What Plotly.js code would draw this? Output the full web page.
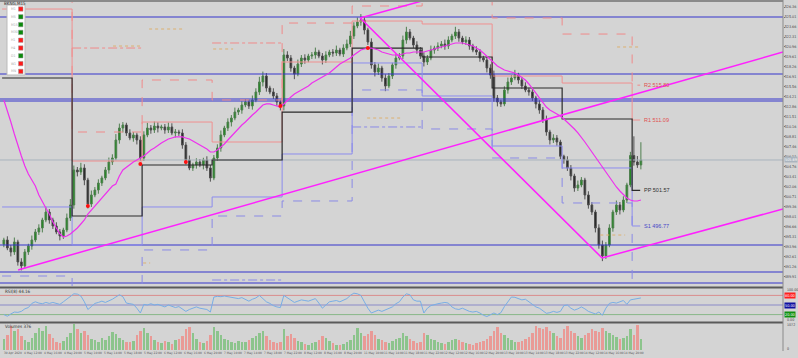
<!DOCTYPE html>
<html><head><meta charset="utf-8">
<script src="https://cdn.plot.ly/plotly-3.0.1.min.js"></script>
<style>html,body{margin:0;padding:0;background:#d4d4d4;overflow:hidden}#chart{width:798px;height:358px}</style>
</head><body><div id="chart"></div>
<script>
// ---------- DATA ----------
const closes=[494.88,493.80,493.26,494.61,491.91,491.37,493.26,494.07,494.88,495.96,496.50,497.58,498.66,497.58,496.77,495.96,495.42,496.23,497.85,499.61,
504.34,504.07,504.61,502.98,499.74,500.96,501.63,502.58,503.26,504.34,505.42,505.96,508.39,510.01,510.42,509.34,508.66,509.07,508.39,505.96,
509.07,510.01,509.74,510.28,510.01,510.15,509.74,510.15,509.34,509.47,509.34,507.71,505.69,504.61,505.02,505.42,505.02,505.69,504.61,503.26,
505.96,507.31,509.07,510.01,510.82,511.36,512.17,512.44,513.12,513.53,512.99,513.80,514.88,516.23,517.04,515.42,514.88,514.34,513.53,512.99,
519.88,519.47,518.12,517.31,518.66,519.47,519.20,519.74,519.88,520.28,519.74,519.20,519.88,520.28,520.15,520.55,520.01,520.82,521.36,522.44,
523.80,524.34,524.61,523.26,521.63,518.53,517.58,518.12,516.77,515.69,517.04,518.53,519.47,519.74,521.90,522.99,522.17,521.23,520.55,519.74,
518.93,519.47,520.55,520.82,521.09,521.36,521.09,521.90,522.44,522.99,522.17,521.63,521.90,521.09,520.55,520.28,519.47,519.20,518.12,517.17,
514.07,513.53,513.26,515.15,516.23,516.77,517.17,516.50,515.69,515.15,514.88,514.07,513.26,512.44,511.09,509.47,508.39,508.66,508.12,506.20,
505.69,504.61,503.53,501.90,502.31,502.98,500.96,499.61,498.66,496.50,494.20,492.72,494.20,496.50,498.66,499.61,498.93,500.28,502.31,506.29,
505.42,505.02,505.69];
const opens=[494.30,494.88,493.80,493.26,494.61,491.91,491.37,493.26,494.07,494.88,495.96,496.50,497.58,498.66,497.58,496.77,495.96,495.42,496.23,497.85,
499.61,504.34,504.07,504.61,502.98,499.74,500.96,501.63,502.58,503.26,504.34,505.42,505.96,508.39,510.01,510.42,509.34,508.66,509.07,508.39,
505.96,509.07,510.01,509.74,510.28,510.01,510.15,509.74,510.15,509.34,509.47,509.34,507.71,505.69,504.61,505.02,505.42,505.02,505.69,504.61,
503.26,505.96,507.31,509.07,510.01,510.82,511.36,512.17,512.44,513.12,513.53,512.99,513.80,514.88,516.23,517.04,515.42,514.88,514.34,513.53,
512.99,519.88,519.47,518.12,517.31,518.66,519.47,519.20,519.74,519.88,520.28,519.74,519.20,519.88,520.28,520.15,520.55,520.01,520.82,521.36,
522.44,523.80,524.34,524.61,523.26,521.63,518.53,517.58,518.12,516.77,515.69,517.04,518.53,519.47,519.74,521.90,522.99,522.17,521.23,520.55,
519.74,518.93,519.47,520.55,520.82,521.09,521.36,521.09,521.90,522.44,522.99,522.17,521.63,521.90,521.09,520.55,520.28,519.47,519.20,518.12,
517.17,514.07,513.53,513.26,515.15,516.23,516.77,517.17,516.50,515.69,515.15,514.88,514.07,513.26,512.44,511.09,509.47,508.39,508.66,508.12,
506.20,505.69,504.61,503.53,501.90,502.31,502.98,500.96,499.61,498.66,496.50,494.20,492.72,494.20,496.50,498.66,499.61,498.93,500.28,502.31,
506.29,505.42,505.02];
const wickUp=[.3,.5,.4,.6,.3,.5,.4,.3,.6,.4,.5,.3,.7,.4,.3,.5,.4,.3,.6,.8,
.6,.4,.7,.5,.3,.6,.4,.5,.3,.4,.6,.5,.8,.6,.4,.3,.5,.4,.3,.5,
.5,.7,.4,.6,.5,.3,.4,.6,.5,.4,.3,.5,.4,.6,.3,.5,.4,.3,.5,.4,
.4,.5,.6,.3,.5,.4,.6,.3,.5,.4,.3,.6,.5,.7,.6,.4,.3,.5,.4,.3,
.8,.5,.4,.3,.6,.4,.5,.3,.4,.6,.3,.4,.5,.3,.4,.6,.3,.5,.6,.7,
.5,.6,.8,.4,.3,.5,.4,.6,.3,.5,.4,.3,.5,.4,.6,.7,.4,.3,.5,.4,
.5,.4,.6,.3,.5,.4,.6,.5,.3,.7,.4,.3,.5,.4,.3,.5,.4,.3,.4,.5,
.6,.4,.3,.5,.6,.4,.7,.3,.4,.5,.3,.4,.3,.5,.4,.6,.3,.5,.4,.3,
.2,.5,.4,.3,.6,.4,.3,.5,.4,.3,.5,.6,.4,.5,.3,.6,.4,.5,.3,.5,
2.6,.8,2.4];
const wickDn=[.4,.3,.6,.4,.5,.6,.3,.4,.5,.3,.4,.6,.3,.5,.4,.3,.6,.4,.3,.4,
.5,.6,.4,.7,.6,.4,.3,.5,.4,.3,.5,.4,.3,.5,.6,.4,.3,.5,.6,.4,
.4,.3,.5,.4,.6,.3,.5,.4,.3,.6,.4,.5,.6,.3,.4,.5,.3,.6,.4,.5,
.3,.4,.5,.3,.4,.6,.3,.4,.5,.3,.4,.5,.3,.4,.6,.5,.3,.4,.5,.6,
.6,.4,.5,.7,.3,.4,.5,.3,.4,.5,.3,.6,.4,.3,.5,.4,.3,.4,.3,.4,
.4,.3,.5,.6,.4,.5,.6,.4,.5,.7,.3,.4,.5,.3,.4,.5,.3,.4,.5,.4,
.6,.4,.3,.5,.4,.3,.5,.4,.3,.4,.5,.3,.4,.5,.3,.4,.5,.3,.6,.5,
.5,.6,.4,.3,.5,.4,.3,.5,.4,.3,.5,.4,.6,.5,.4,.5,.6,.4,.5,.4,
.5,.4,.6,.5,.4,.3,.6,.5,.4,.6,.5,.7,.4,.3,.5,.4,.6,.3,.4,.3,
.5,.4,.6];
const volumes=[420,560,880,700,760,520,380,300,450,620,800,720,900,610,430,300,260,340,500,640,
980,760,620,700,540,420,380,300,460,380,520,680,600,440,360,280,300,340,560,720,
800,640,520,380,300,260,320,280,240,360,420,520,760,840,620,400,300,260,340,560,
860,700,540,420,380,300,260,340,280,300,380,460,520,640,700,520,380,300,260,300,
760,520,600,460,340,280,240,200,260,300,380,520,460,340,260,200,180,240,300,380,
560,820,640,520,600,720,560,420,380,300,260,340,420,460,620,520,400,320,260,300,
620,540,420,360,300,260,240,280,360,420,380,300,260,220,200,260,300,340,400,520,
720,840,640,560,460,380,300,280,340,420,500,640,900,820,760,860,720,640,520,460,
780,880,720,620,520,460,560,640,780,700,660,800,720,620,560,480,420,460,520,760,
560,940,420];
const rsiValues=[20,15,22,28,27,30,38,42,55,60,56,54,58,55,58,56,52,60,68,76,
85,84,78,60,36,45,55,58,62,58,62,68,75,82,76,56,54,52,40,25,
52,50,54,50,52,48,44,50,46,42,45,38,30,36,40,44,40,38,36,28,
75,77,76,78,76,74,72,70,73,68,62,68,72,80,70,60,55,48,44,42,
80,72,64,58,62,66,64,62,66,70,56,40,50,60,62,64,60,64,70,80,
87,85,80,60,40,25,30,34,30,34,40,44,54,60,75,85,82,66,62,62,
25,40,48,52,54,56,58,56,44,38,36,40,34,30,28,30,25,18,14,20,
25,20,26,45,62,75,74,70,66,68,60,50,44,40,32,24,26,30,27,30,
48,50,40,34,38,44,38,30,26,22,28,18,40,55,58,56,60,64,52,66,
68,70,72];
const maValues=[513.80,512.44,510.82,509.20,507.58,506.23,504.88,503.80,502.98,502.17,500.96,500.01,499.20,498.39,497.31,496.50,495.69,495.28,495.42,495.69,
496.09,496.50,497.04,497.58,498.39,498.93,499.61,500.01,500.55,501.09,501.77,502.17,502.44,503.53,504.34,504.74,505.15,505.42,505.69,505.96,
506.23,506.63,507.04,507.31,507.71,507.98,508.25,508.52,508.66,508.80,508.80,508.80,508.66,508.52,508.25,507.98,507.71,507.44,507.17,506.77,
506.77,507.04,507.44,507.85,508.39,508.93,509.47,510.01,510.42,510.82,511.36,511.77,512.17,512.72,513.12,513.26,513.26,513.12,512.99,512.85,
513.26,513.80,514.20,514.61,514.88,515.15,515.42,515.69,516.09,516.36,516.63,516.90,517.17,517.44,517.85,518.26,518.66,518.93,519.20,519.47,
519.88,520.28,520.55,520.69,520.82,520.82,520.69,520.55,520.28,520.15,520.01,519.88,519.88,519.88,520.01,520.15,520.15,520.28,520.28,520.28,
520.28,520.42,520.55,520.69,520.82,520.96,521.09,521.23,521.36,521.50,521.50,521.50,521.36,521.23,521.09,520.82,520.55,520.15,519.74,519.20,
518.80,518.39,518.12,517.85,517.71,517.58,517.44,517.17,516.77,516.50,515.96,515.42,514.74,514.07,513.39,512.85,512.44,512.17,511.90,511.63,
511.23,510.82,510.42,509.88,509.34,508.80,508.12,507.44,506.77,506.09,505.28,504.61,503.93,503.26,502.58,502.04,501.50,500.96,500.55,500.28,
500.15,500.15,500.28];
// signal dots (bar index, price)
const dotBars=[24,39,52,79,104];
const dotPrices=[499.47,505.15,505.42,512.99,520.82];
// daily pivot levels, one value per trading day (4 May ... 15 May)
const dayNames=["4 May","5 May","6 May","7 May","8 May","11 May","12 May","13 May","14 May","15 May"];
const r3Levels=[null,520.82,null,521.50,null,null,null,null,null,null];
const r2Levels=[543.0,509.47,516.50,513.80,524.20,526.50,529.30,524.88,522.71,515.80];
const r1Levels=[526.09,505.55,510.82,508.12,518.93,524.47,524.07,517.04,516.09,511.09];
const ppLevels=[516.77,498.12,505.01,505.69,512.17,520.82,519.61,515.42,511.23,501.57];
const s1Levels=[499.34,494.20,499.34,500.69,506.50,518.80,514.34,507.58,504.61,496.77];
const s2Levels=[490.01,486.77,493.53,498.12,500.15,515.15,509.88,505.96,499.88,487.25];
const s3Levels=[null,null,null,489.47,null,510.15,null,null,null,null];
// mid-level short segments: start bar, end bar, price
const midStart=[31.2,41.5,59.8,103.8,175.2,170.4,39.8];
const midEnd=[38.9,51.2,65.5,113.2,181.8,177.5,41.8];
const midPrice=[521.09,523.39,520.69,511.36,520.96,495.55,491.77];
// horizontal levels and trend lines
const hLevels=[525.01,517.31,513.93,513.66,494.20,490.55,489.06];
const lastPrice=505.69;
const trendA={bars:[4.07,222.6],prices:[490.83,520.28]};
const trendB={bars:[101.8,170.9],prices:[524.88,492.45]};
const trendC={bars:[101.8,124.6],prices:[524.88,527.85]};
const trendD={bars:[170.9,222.6],prices:[492.45,499.07]};
const dateLabels=["30 Apr 2020","4 May 12:00","4 May 16:00","4 May 20:00","5 May 10:00","5 May 14:00","5 May 18:00","5 May 22:00",
"6 May 12:00","6 May 16:00","6 May 20:00","7 May 10:00","7 May 14:00","7 May 18:00","7 May 22:00","8 May 12:00","8 May 16:00","8 May 20:00",
"11 May 10:00","11 May 14:00","11 May 18:00","11 May 22:00","12 May 12:00","12 May 16:00","12 May 20:00","13 May 10:00","13 May 14:00",
"13 May 18:00","13 May 22:00","14 May 12:00","14 May 16:00","14 May 20:00"];
const tfNames=["M1","M5","M15","M30","H1","H4","D1","W1","MN"];
const tfState=[0,1,1,1,0,0,1,0,0];
const pivotTags=[["R2",515.80],["R1",511.09],["PP",501.57],["S1",496.77]];

// ---------- GEOMETRY ----------
const W=798,H=358;
const XR=[-1.1,222.6];
const px=x=>x/W, py=y=>1-y/H;
const FONT='Liberation Sans, Arial, sans-serif';
const NARROW='Liberation Sans Narrow, DejaVu Sans Condensed, Liberation Sans, sans-serif';
const idx=closes.map((_,i)=>i);
const highs=closes.map((c,i)=>Math.max(c,opens[i])+wickUp[i]);
const lows=closes.map((c,i)=>Math.min(c,opens[i])-wickDn[i]);

const nDays=ppLevels.length;
const dayStart=k=>k*20-0.5;
const dayEnd=k=>k===nDays-1?181.8:k*20+19.5;
function stepTrace(levels,color,dash,width){
  const x=[],y=[];
  for(let k=0;k<levels.length;k++){
    const v=levels[k];
    if(v===null){x.push(null);y.push(null);continue;}
    x.push(dayStart(k),dayEnd(k));y.push(v,v);
  }
  return {type:'scatter',mode:'lines',x,y,line:{color,dash,width},hoverinfo:'skip',showlegend:false,connectgaps:false};
}

const traces=[];
hLevels.forEach(v=>traces.push({type:'scatter',mode:'lines',x:XR,y:[v,v],line:{color:'#3535cc',width:1.1},hoverinfo:'skip',showlegend:false}));
traces.push({type:'scatter',mode:'lines',x:XR,y:[lastPrice,lastPrice],line:{color:'#a9b3bd',width:1},hoverinfo:'skip',showlegend:false});
midStart.forEach((s,k)=>traces.push({type:'scatter',mode:'lines',x:[s,midEnd[k]],y:[midPrice[k],midPrice[k]],line:{color:'#dcb070',width:1,dash:'dot'},hoverinfo:'skip',showlegend:false}));
traces.push(stepTrace(s3Levels,'#8a8ae6','dashdot',1));
traces.push(stepTrace(r3Levels,'#f08a8a','dashdot',1));
traces.push(stepTrace(s2Levels,'#8a8ae6','dash',1));
traces.push(stepTrace(r2Levels,'#f08a8a','dash',1));
traces.push(stepTrace(s1Levels,'#8c8cee','solid',1));
traces.push(stepTrace(r1Levels,'#f09090','solid',1));
traces.push(stepTrace(ppLevels,'#2a2a2a','solid',1.2));
[trendA,trendB,trendC,trendD].forEach(t=>traces.push({type:'scatter',mode:'lines',x:t.bars,y:t.prices,line:{color:'#ff20ff',width:1.5},hoverinfo:'skip',showlegend:false}));
traces.push({type:'scatter',mode:'lines',x:idx,y:maValues,line:{color:'#ee30ee',width:1.2},hoverinfo:'skip',showlegend:false});
traces.push({type:'candlestick',x:idx,open:opens,high:highs,low:lows,close:closes,
  increasing:{line:{color:'#4f7f4f',width:1},fillcolor:'#1a8c1a'},
  decreasing:{line:{color:'#505050',width:1},fillcolor:'#202020'},
  whiskerwidth:0,hoverinfo:'skip',showlegend:false});
traces.push({type:'scatter',mode:'markers',x:dotBars,y:dotPrices,marker:{color:'#ff1010',size:4},hoverinfo:'skip',showlegend:false});
[80,50,20].forEach((v,j)=>traces.push({type:'scatter',mode:'lines',x:XR,y:[v,v],yaxis:'y2',line:{color:['#d98c8c','#8a8ac8','#88b888'][j],width:1},hoverinfo:'skip',showlegend:false}));
traces.push({type:'scatter',mode:'lines',x:idx,y:rsiValues,yaxis:'y2',line:{color:'#78aee6',width:1},hoverinfo:'skip',showlegend:false});
traces.push({type:'bar',x:idx,y:volumes,yaxis:'y3',marker:{color:closes.map((c,i)=>c>=opens[i]?'#8cc48c':'#e99a96'),line:{width:0}},width:0.7,hoverinfo:'skip',showlegend:false});

// ---------- ANNOTATIONS & SHAPES ----------
const ann=[],shapes=[];
const txt=(x,y,t,o={})=>ann.push(Object.assign({xref:'paper',yref:'paper',x:px(x),y:py(y),text:t,showarrow:false,xanchor:'left',yanchor:'middle',font:{family:FONT,size:5,color:'#444'}},o));
txt(2,4,'BKNG,M15',{font:{family:NARROW,size:4.5,color:'#333'}});
dateLabels.forEach((t,k)=>txt(2+20*k,353,t,{font:{family:NARROW,size:3.2,color:'#555'}}));
const tagColor={R2:'#e05050',R1:'#e05050',PP:'#303030',S1:'#4848c8'};
pivotTags.forEach(([n,v])=>ann.push({xref:'x',yref:'y',x:182.2,y:v,text:n+' '+v.toFixed(2),showarrow:false,xanchor:'left',yanchor:'middle',font:{family:FONT,size:5.5,color:tagColor[n]}}));
txt(3,291.5,'RSI(8) 44.16',{font:{family:NARROW,size:4.5,color:'#333'}});
txt(3,326.5,'Volumes 376',{font:{family:NARROW,size:4.5,color:'#333'}});
ann.push({xref:'paper',yref:'y',x:px(784),y:lastPrice,text:lastPrice.toFixed(2),showarrow:false,xanchor:'left',yanchor:'middle',bgcolor:'#aab4be',font:{family:NARROW,size:3.8,color:'#fff'},borderpad:0});
[[80,'#ff2020'],[50,'#1010a0'],[20,'#109010']].forEach(([v,c])=>ann.push({xref:'paper',yref:'y2',x:px(784),y:v,text:v.toFixed(2),showarrow:false,xanchor:'left',yanchor:'middle',bgcolor:c,font:{family:NARROW,size:3.8,color:'#fff'},borderpad:0}));
txt(785,289.5,'100.00',{font:{family:NARROW,size:3.6,color:'#444'}});
txt(785,319.5,'0.00',{font:{family:NARROW,size:3.6,color:'#444'}});
txt(785,324.8,'1072',{font:{family:NARROW,size:3.6,color:'#444'}});
txt(785,349,'0',{font:{family:NARROW,size:3.6,color:'#444'}});
shapes.push({type:'rect',xref:'paper',yref:'paper',x0:px(7),x1:px(25),y0:py(75),y1:py(5),fillcolor:'#ffffff',line:{color:'#bbbbbb',width:1}});
tfNames.forEach((n,k)=>{
  const yy=9+k*7.8;
  txt(9,yy,n,{font:{family:NARROW,size:3.5,color:'#aaa'}});
  shapes.push({type:'rect',xref:'paper',yref:'paper',x0:px(18.5),x1:px(23),y0:py(yy+2.2),y1:py(yy-2.2),fillcolor:tfState[k]?'#0b8a0b':'#ff1a1a',line:{color:'#999',width:0.5}});
});
shapes.push({type:'line',xref:'paper',yref:'paper',x0:0,x1:px(783),y0:py(1),y1:py(1),line:{color:'#8a8a8a',width:2}});
shapes.push({type:'line',xref:'paper',yref:'paper',x0:0,x1:px(783),y0:py(287.5),y1:py(287.5),line:{color:'#5a5a5a',width:2}});
shapes.push({type:'line',xref:'paper',yref:'paper',x0:0,x1:px(783),y0:py(322.5),y1:py(322.5),line:{color:'#5a5a5a',width:2}});
shapes.push({type:'line',xref:'paper',yref:'paper',x0:px(783),x1:px(783),y0:py(0),y1:py(351),line:{color:'#8a8a8a',width:1}});

const axisFont={family:NARROW,size:3.7,color:'#444'};
const layout={
  width:W,height:H,margin:{l:0,r:0,t:0,b:0},
  paper_bgcolor:'#d4d4d4',plot_bgcolor:'#d4d4d4',
  showlegend:false,dragmode:false,bargap:0,
  xaxis:{domain:[0,783/W],range:XR,anchor:'y3',showgrid:false,zeroline:false,showticklabels:false,ticks:'',rangeslider:{visible:false},fixedrange:true},
  yaxis:{domain:[py(286),py(2)],range:[488.66,527.04],side:'right',showgrid:false,zeroline:false,ticks:'outside',ticklen:1,tickcolor:'#777',
         ticklabelstandoff:-1,tick0:525.01,dtick:1.35,tickformat:'.2f',tickfont:axisFont,fixedrange:true,showline:false},
  yaxis2:{domain:[py(321),py(289)],range:[0,100],anchor:'x',side:'right',showgrid:false,zeroline:false,showticklabels:false,fixedrange:true},
  yaxis3:{domain:[py(350),py(323)],range:[0,1000],anchor:'x',side:'right',showgrid:false,zeroline:false,showticklabels:false,fixedrange:true},
  annotations:ann,shapes:shapes
};
Plotly.newPlot('chart',traces,layout,{staticPlot:true,displayModeBar:false});
</script></body></html>
